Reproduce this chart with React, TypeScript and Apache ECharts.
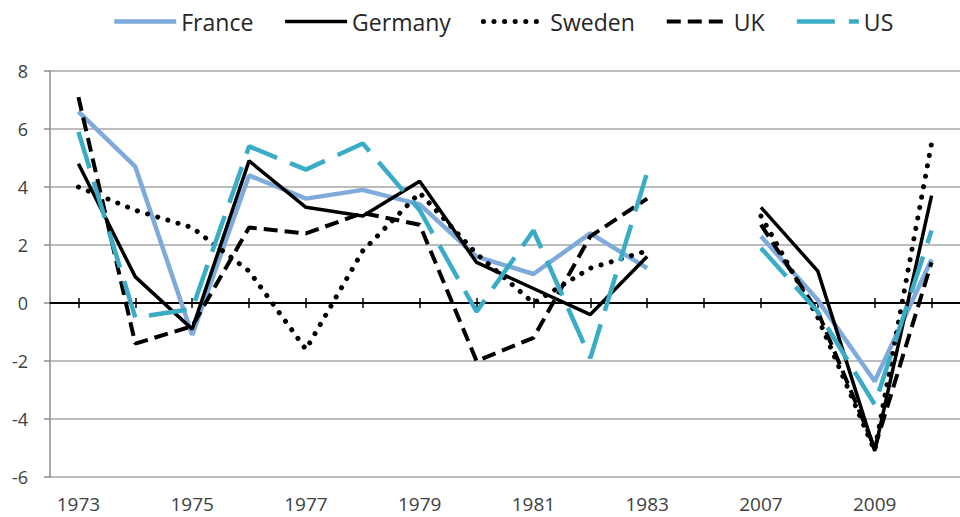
import React, { useEffect, useRef } from "react";
import * as echarts from "echarts";

const years = ["1973","1974","1975","1976","1977","1978","1979","1980","1981","1982","1983","","2007","2008","2009","2010"];
const france = [6.6, 4.7, -1.1, 4.4, 3.6, 3.9, 3.4, 1.6, 1.0, 2.4, 1.2, null, 2.3, 0.1, -2.7, 1.5];
const germany = [4.8, 0.9, -0.9, 4.9, 3.3, 3.0, 4.2, 1.4, 0.5, -0.4, 1.6, null, 3.3, 1.1, -5.1, 3.7];
const sweden = [4.0, 3.2, 2.6, 1.1, -1.6, 1.8, 3.8, 1.7, 0.0, 1.2, 1.8, null, 3.0, -0.5, -5.1, 5.5];
const uk = [7.1, -1.4, -0.8, 2.6, 2.4, 3.1, 2.7, -2.0, -1.2, 2.3, 3.6, null, 2.7, -0.3, -5.0, 1.4];
const us = [5.9, -0.5, -0.2, 5.4, 4.6, 5.5, 3.2, -0.3, 2.5, -1.9, 4.5, null, 1.9, -0.3, -3.5, 2.5];

const FONT = "'Open Sans', 'Noto Sans', sans-serif";

const STYLES: Record<string, { color: string; width: number; type: any; cap: any }> = {
  France: { color: "#7eaadc", width: 4.5, type: "solid", cap: "butt" },
  Germany: { color: "#000000", width: 3.5, type: "solid", cap: "butt" },
  Sweden: { color: "#000000", width: 5, type: [0.1, 10.5], cap: "round" },
  UK: { color: "#000000", width: 4, type: [14, 7], cap: "butt" },
  US: { color: "#3aacc6", width: 4.5, type: [38, 14], cap: "butt" },
};

export default function App() {
  const ref = useRef<HTMLDivElement>(null);
  useEffect(() => {
    if (!ref.current) return;
    const chart = echarts.init(ref.current, null, { renderer: "svg" });
    const mk = (name: string, data: (number | null)[]) => {
      const s = STYLES[name];
      return {
        name,
        type: "line",
        data,
        symbol: "none",
        showSymbol: false,
        connectNulls: false,
        xAxisIndex: 0,
        yAxisIndex: 0,
        lineStyle: { color: s.color, width: s.width, type: s.type, cap: s.cap },
        itemStyle: { color: s.color },
      };
    };
    const names = ["France", "Germany", "Sweden", "UK", "US"];
    chart.setOption({
      animation: false,
      backgroundColor: "#ffffff",
      legend: {
        left: 107,
        top: 5,
        itemWidth: 62,
        itemHeight: 14,
        itemGap: 30,
        itemStyle: { opacity: 0, color: "transparent", borderWidth: 0 },
        textStyle: { fontFamily: FONT, fontSize: 23, color: "#262626" },
        data: names.map((n) => ({
          name: n,
          lineStyle: { width: STYLES[n].width, color: STYLES[n].color, type: STYLES[n].type, cap: STYLES[n].cap },
        })),
      },
      grid: { left: 50, top: 71, width: 920, bottom: 40 },
      xAxis: [
        {
          type: "category",
          data: years,
          boundaryGap: true,
          position: "bottom",
          axisLine: { show: false, onZero: false },
          axisTick: { show: false },
          axisLabel: { interval: 1, fontFamily: FONT, fontSize: 19, lineHeight: 18, color: "#404040", margin: 18 },
          splitLine: { show: false },
        },
        {
          type: "category",
          data: years,
          boundaryGap: true,
          position: "bottom",
          axisLine: { show: true, onZero: true, lineStyle: { color: "#000", width: 2 } },
          axisTick: { show: true, alignWithLabel: true, interval: 0, length: 5, lineStyle: { color: "#000", width: 1.5 } },
          axisLabel: { show: false },
          splitLine: { show: false },
        },
        {
          type: "category",
          data: years,
          boundaryGap: true,
          position: "bottom",
          axisLine: { show: false, onZero: true, onZeroAxisIndex: 0 },
          axisTick: { show: true, inside: true, alignWithLabel: true, interval: 0, length: 5, lineStyle: { color: "#000", width: 1.5 } },
          axisLabel: { show: false },
          splitLine: { show: false },
        },
      ],
      yAxis: {
        type: "value",
        min: -6,
        max: 8,
        interval: 2,
        axisLine: { show: true, lineStyle: { color: "#8c8c8c", width: 1.5 } },
        axisTick: { show: true, length: 6, lineStyle: { color: "#8c8c8c", width: 1.5 } },
        axisLabel: { fontFamily: FONT, fontSize: 18, color: "#404040", margin: 22 },
        splitLine: { show: true, lineStyle: { color: "#a6a6a6", width: 1.5 } },
      },
      series: [
        mk("France", france),
        mk("Germany", germany),
        mk("Sweden", sweden),
        mk("UK", uk),
        mk("US", us),
      ],
    });
    return () => chart.dispose();
  }, []);
  return <div ref={ref} style={{ position: "absolute", left: 0, top: 0, width: 960, height: 517 }} />;
}
